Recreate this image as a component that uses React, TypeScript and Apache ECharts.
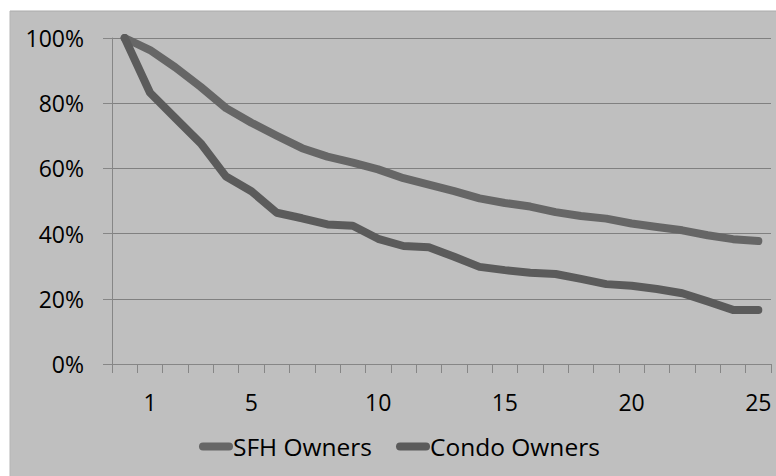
import React, { useEffect, useRef } from "react";
import * as echarts from "echarts";

const categories: string[] = [
  "0", "1", "2", "3", "4", "5", "6", "7", "8", "9", "10", "11", "12",
  "13", "14", "15", "16", "17", "18", "19", "20", "21", "22", "23", "24", "25",
];
const shownXLabels: string[] = ["1", "5", "10", "15", "20", "25"];
const sfhOwners: number[] = [
  1.0, 0.963, 0.91, 0.85, 0.785, 0.74, 0.7, 0.662, 0.636, 0.618, 0.597, 0.57, 0.55,
  0.53, 0.508, 0.494, 0.483, 0.466, 0.454, 0.446, 0.431, 0.42, 0.41, 0.395, 0.383, 0.377,
];
const condoOwners: number[] = [
  1.0, 0.832, 0.754, 0.677, 0.575, 0.53, 0.464, 0.447, 0.428, 0.424, 0.384, 0.362, 0.358,
  0.329, 0.298, 0.288, 0.28, 0.276, 0.261, 0.245, 0.24, 0.23, 0.217, 0.192, 0.166, 0.166,
];
const seriesNames: string[] = ["SFH Owners", "Condo Owners"];

const FONT = "Open Sans";

export default function App() {
  const ref = useRef<HTMLDivElement>(null);
  useEffect(() => {
    if (!ref.current) return;
    const chart = echarts.init(ref.current, undefined, { renderer: "svg" });
    const legendIcon =
      "path://M4,0 L30,0 A4,4 0 0 1 30,8 L4,8 A4,4 0 0 1 4,0 Z";
    chart.setOption({
      animation: false,
      backgroundColor: "#ffffff",
      graphic: [
        {
          type: "rect",
          z: -10,
          shape: { x: 10, y: 11, width: 776, height: 476 },
          style: { fill: "#bfbfbf" },
          silent: true,
        },
        {
          type: "line",
          z: -9,
          shape: { x1: 10, y1: 11, x2: 776, y2: 11 },
          style: { stroke: "#ababab", lineWidth: 1 },
          silent: true,
        },
        {
          type: "line",
          z: -9,
          shape: { x1: 10, y1: 11, x2: 10, y2: 476 },
          style: { stroke: "#b5b5b5", lineWidth: 1 },
          silent: true,
        },
      ],
      grid: { left: 112, right: 5, top: 38, bottom: 112, containLabel: false },
      xAxis: {
        type: "category",
        data: categories,
        boundaryGap: true,
        axisLine: { show: true, lineStyle: { color: "#868686", width: 1 } },
        axisTick: { show: true, interval: 0, length: 9, lineStyle: { color: "#868686" } },
        axisLabel: {
          interval: (_i: number, v: string) => shownXLabels.includes(v),
          color: "#000",
          fontFamily: FONT,
          fontSize: 23,
          margin: 26,
        },
        splitLine: { show: false },
      },
      yAxis: {
        type: "value",
        min: 0,
        max: 1,
        interval: 0.2,
        axisLine: { show: true, lineStyle: { color: "#868686", width: 1 } },
        axisTick: { show: true, length: 9, lineStyle: { color: "#868686" } },
        axisLabel: {
          formatter: (v: number) => Math.round(v * 100) + "%",
          color: "#000",
          fontFamily: FONT,
          fontSize: 23,
          margin: 28,
        },
        splitLine: { show: true, lineStyle: { color: "#808080", width: 1 } },
      },
      legend: {
        data: seriesNames,
        left: 194,
        top: 429,
        icon: legendIcon,
        itemWidth: 34,
        itemHeight: 8,
        itemGap: 24,
        textStyle: { color: "#000", fontFamily: FONT, fontSize: 24.5, padding: [0, 0, 0, -5] },
      },
      series: [
        {
          name: seriesNames[0],
          type: "line",
          data: sfhOwners,
          symbol: "none",
          lineStyle: { color: "#666666", width: 8, cap: "round", join: "round" },
          itemStyle: { color: "#666666" },
        },
        {
          name: seriesNames[1],
          type: "line",
          data: condoOwners,
          symbol: "none",
          lineStyle: { color: "#5b5b5b", width: 8, cap: "round", join: "round" },
          itemStyle: { color: "#5b5b5b" },
        },
      ],
    });
    return () => chart.dispose();
  }, []);
  return (
    <div
      ref={ref}
      style={{ position: "fixed", left: 0, top: 0, width: 776, height: 476 }}
    />
  );
}
